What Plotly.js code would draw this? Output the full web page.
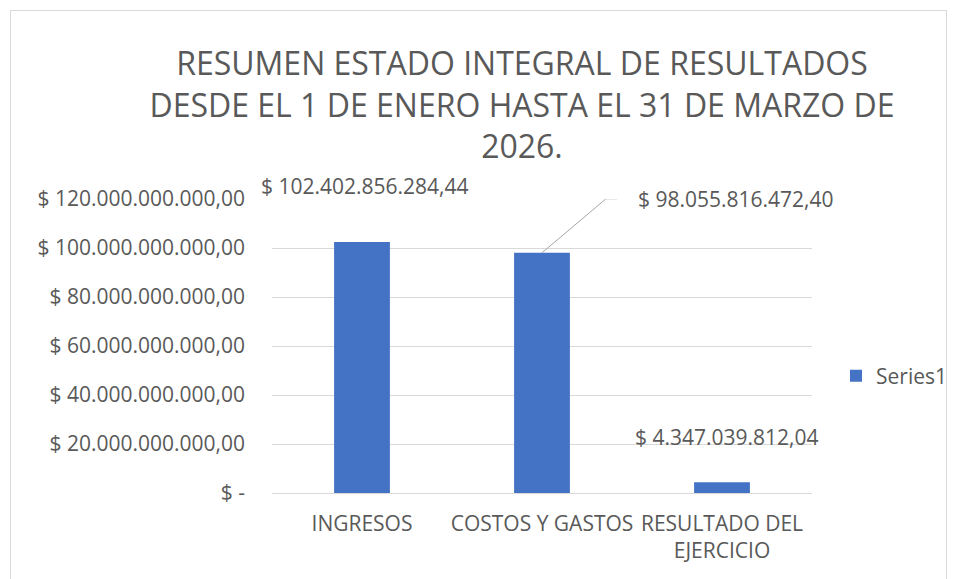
<!DOCTYPE html>
<html>
<head>
<meta charset="utf-8">
<script src="https://cdn.plot.ly/plotly-3.0.1.min.js"></script>
<style>
html,body{margin:0;padding:0;background:#fff;}
#wrap{position:relative;width:956px;height:579px;overflow:hidden;}
#frame{position:absolute;left:10px;top:10px;width:937px;height:620px;border:1px solid #d9d9d9;box-sizing:border-box;pointer-events:none;z-index:5;}
#chart{position:absolute;left:0;top:0;width:956px;height:579px;}
</style>
</head>
<body>
<div id="wrap"><div id="chart"></div><div id="frame"></div></div>
<script>
// Data
const categories = ['INGRESOS', 'COSTOS Y GASTOS', 'RESULTADO DEL EJERCICIO'];
const categoryLabels = ['INGRESOS', 'COSTOS Y GASTOS', 'RESULTADO DEL<br>EJERCICIO'];
const values = [102402856284.44, 98055816472.40, 4347039812.04];
const seriesName = 'Series1';
const tickValues = [0, 20e9, 40e9, 60e9, 80e9, 100e9, 120e9];
const tickLabels = ['$ -', '$ 20.000.000.000,00', '$ 40.000.000.000,00', '$ 60.000.000.000,00',
                    '$ 80.000.000.000,00', '$ 100.000.000.000,00', '$ 120.000.000.000,00'];
const titleLines = ['RESUMEN ESTADO INTEGRAL DE RESULTADOS', 'DESDE EL 1 DE ENERO HASTA EL 31 DE MARZO DE', '2026.'];

function fmt(v) {
  const parts = v.toFixed(2).split('.');
  const intPart = parts[0].replace(/\B(?=(\d{3})+(?!\d))/g, '.');
  return '$ ' + intPart + ',' + parts[1];
}

const FONT = 'Open Sans, Noto Sans, sans-serif';
const GREY = '#595959';
const BLUE = '#4472c4';

const trace = {
  type: 'bar',
  x: categories,
  y: values,
  name: seriesName,
  marker: {color: BLUE},
  width: 0.31,
  hoverinfo: 'skip'
};

// label offsets (pixels) relative to bar tops
const labelShift = [[3, 56], [194, 54], [5, 45]];
const annotations = values.map((v, i) => ({
  x: categories[i], y: v, xref: 'x', yref: 'y',
  text: fmt(v), showarrow: false,
  xshift: labelShift[i][0], yshift: labelShift[i][1],
  font: {family: FONT, size: 21, color: GREY}
}));

const layout = {
  width: 956, height: 579,
  paper_bgcolor: '#fff', plot_bgcolor: '#fff',
  margin: {l: 272, r: 144, t: 199, b: 86},
  title: {
    text: titleLines.join('<br>'),
    font: {family: FONT, size: 32, color: GREY},
    x: 0.546, xanchor: 'center',
    y: 1 - 75/579, yanchor: 'top', yref: 'container'
  },
  showlegend: true,
  legend: {
    xref: 'container', yref: 'container',
    x: 836/956, xanchor: 'left', y: 1 - 376/579, yanchor: 'middle',
    font: {family: FONT, size: 21, color: GREY},
    itemwidth: 30
  },
  xaxis: {
    type: 'category',
    range: [-0.5, categories.length - 0.5],
    autorange: false,
    tickvals: categories, ticktext: categoryLabels,
    tickfont: {family: FONT, size: 21, color: GREY},
    tickangle: 0,
    showgrid: false, zeroline: false, showline: false, ticks: '',
    ticklabelstandoff: 16
  },
  yaxis: {
    range: [0, 120e9],
    autorange: false,
    tickvals: tickValues, ticktext: tickLabels,
    tickfont: {family: FONT, size: 21, color: GREY},
    gridcolor: '#d9d9d9', gridwidth: 1,
    zeroline: true, zerolinecolor: '#d9d9d9', zerolinewidth: 1,
    showline: false, ticks: '', ticklabelstandoff: 26
  },
  annotations: annotations,
  shapes: [
    {type: 'line', xref: 'x', yref: 'y', xsizemode: 'pixel', ysizemode: 'pixel',
     xanchor: categories[1], yanchor: values[1], x0: 0, y0: 0, x1: 64, y1: 54,
     line: {color: '#a6a6a6', width: 1}},
    {type: 'line', xref: 'x', yref: 'y', xsizemode: 'pixel', ysizemode: 'pixel',
     xanchor: categories[1], yanchor: values[1], x0: 64, y0: 54, x1: 75, y1: 54,
     line: {color: '#a6a6a6', width: 1}}
  ]
};

Plotly.newPlot('chart', [trace], layout, {displayModeBar: false, staticPlot: true});
</script>
</body>
</html>
